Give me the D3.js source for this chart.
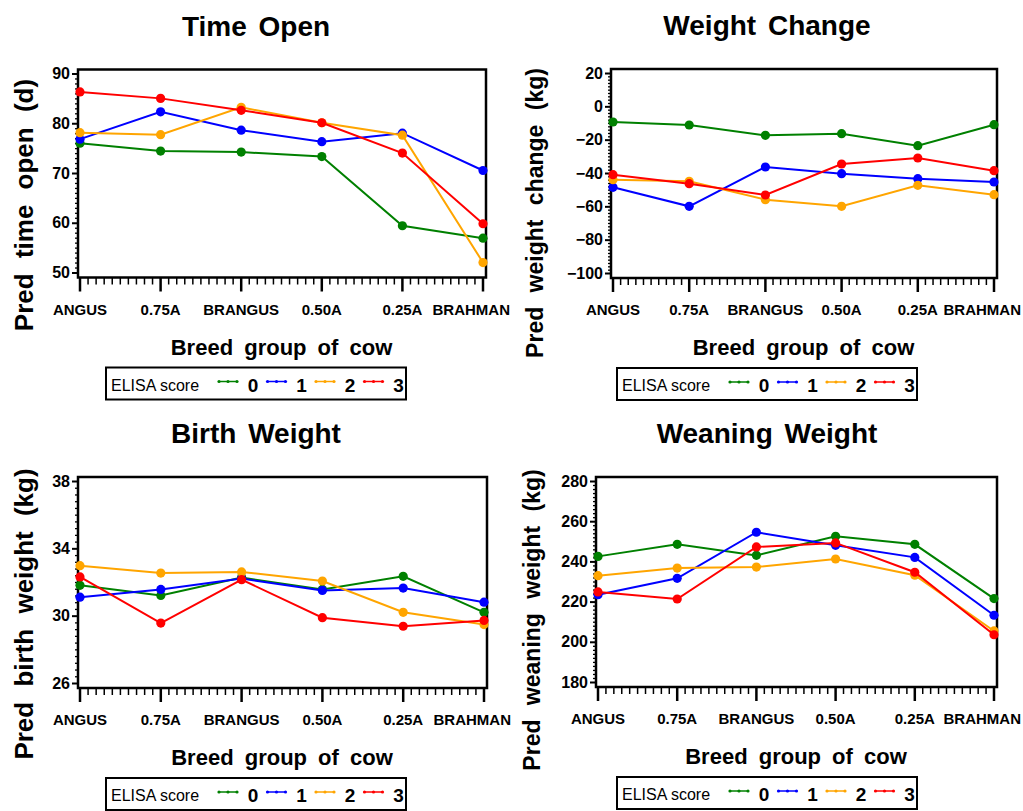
<!DOCTYPE html>
<html>
<head>
<meta charset="utf-8">
<script src="https://d3js.org/d3.v7.min.js"></script>
<style>
    body { margin: 0; background: #fff; }
    svg { display: block; font-family: "Liberation Sans", Arial, Helvetica, sans-serif; }
</style>
</head>
<body>
<div id="chart"></div>
<script>
// Breed groups on the x axis and ELISA score groups
const breeds = ['ANGUS', '0.75A', 'BRANGUS', '0.50A', '0.25A', 'BRAHMAN'];
const elisaScores = ['0', '1', '2', '3'];
const scoreColors = ['#008000', '#0000ff', '#ffa500', '#ff0000'];

// Time open (d)
const timeOpen0 = [76.0, 74.4, 74.2, 73.3, 59.4, 56.9];
const timeOpen1 = [76.8, 82.3, 78.6, 76.3, 78.0, 70.5];
const timeOpen2 = [78.1, 77.7, 83.2, 80.1, 77.6, 52.0];
const timeOpen3 = [86.3, 85.0, 82.6, 80.1, 74.0, 59.8];
const timeOpenTicks = [50, 60, 70, 80, 90];

// Weight change (kg)
const weightChange0 = [-9.4, -11.2, -17.4, -16.4, -23.6, -11.0];
const weightChange1 = [-48.6, -60.0, -36.4, -40.4, -43.4, -45.4];
const weightChange2 = [-44.0, -45.0, -56.0, -60.0, -47.4, -53.0];
const weightChange3 = [-41.0, -46.4, -53.2, -34.6, -31.0, -38.6];
const weightChangeTicks = [-100, -80, -60, -40, -20, 0, 20];

// Birth weight (kg)
const birthWeight0 = [31.8, 31.2, 32.26, 31.56, 32.34, 30.2];
const birthWeight1 = [31.1, 31.56, 32.2, 31.5, 31.64, 30.8];
const birthWeight2 = [32.97, 32.53, 32.6, 32.06, 30.2, 29.47];
const birthWeight3 = [32.3, 29.56, 32.14, 29.88, 29.37, 29.72];
const birthWeightTicks = [26, 30, 34, 38];

// Weaning weight (kg)
const weaningWeight0 = [242.5, 248.5, 243.0, 252.5, 248.5, 221.5];
const weaningWeight1 = [223.4, 231.6, 254.5, 248.0, 242.0, 213.2];
const weaningWeight2 = [232.9, 236.7, 237.2, 241.2, 233.1, 205.4];
const weaningWeight3 = [224.8, 221.3, 247.2, 249.2, 234.6, 203.5];
const weaningWeightTicks = [180, 200, 220, 240, 260, 280];

const width = 1023;
const height = 811;

const svg = d3.select('#chart')
    .append('svg')
    .attr('width', width)
    .attr('height', height);

svg.append('rect')
    .attr('width', width)
    .attr('height', height)
    .attr('fill', '#fff');

// one entry per panel: data + where it sits on the page
const panels = [
    { title: 'Time Open', yLabel: 'Pred time open (d)', ticks: timeOpenTicks,
      series: [timeOpen0, timeOpen1, timeOpen2, timeOpen3],
      center: 256, left: 80, right: 483, top: 73.5, bottom: 272.5,
      labelX: 33, labelY: 205, labelSize: 26 },
    { title: 'Weight Change', yLabel: 'Pred weight change (kg)', ticks: weightChangeTicks,
      series: [weightChange0, weightChange1, weightChange2, weightChange3],
      center: 767, left: 613, right: 994, top: 73, bottom: 273,
      labelX: 543, labelY: 213, labelSize: 23 },
    { title: 'Birth Weight', yLabel: 'Pred birth weight (kg)', ticks: birthWeightTicks,
      series: [birthWeight0, birthWeight1, birthWeight2, birthWeight3],
      center: 256, left: 80, right: 484, top: 481, bottom: 683,
      labelX: 33, labelY: 614, labelSize: 26 },
    { title: 'Weaning Weight', yLabel: 'Pred weaning weight (kg)', ticks: weaningWeightTicks,
      series: [weaningWeight0, weaningWeight1, weaningWeight2, weaningWeight3],
      center: 767, left: 598, right: 994, top: 481, bottom: 682,
      labelX: 540, labelY: 620, labelSize: 23 }
];

panels.forEach(drawPanel);

function drawPanel(p) {
    const g = svg.append('g');

    const x = d3.scalePoint()
        .domain(breeds)
        .range([p.left, p.right]);

    const y = d3.scaleLinear()
        .domain(d3.extent(p.ticks))
        .range([p.bottom, p.top]);

    const frameLeft = p.left - 2;
    const frameRight = p.right + 3;
    const frameTop = p.top - 4;
    const frameBottom = p.bottom + 5;

    // title
    g.append('text')
        .attr('x', p.center)
        .attr('y', frameTop - 34)
        .attr('text-anchor', 'middle')
        .attr('font-size', 28)
        .attr('font-weight', 'bold')
        .style('word-spacing', '4px')
        .text(p.title);

    // y axis major + minor ticks
    const step = p.ticks[1] - p.ticks[0];
    const minorY = [];
    for (let i = 0; i < p.ticks.length - 1; i++) {
        for (let k = 1; k < 10; k++) minorY.push(p.ticks[i] + step * k / 10);
    }

    g.append('g')
        .attr('transform', `translate(${frameLeft},0)`)
        .call(d3.axisLeft(y).tickValues(minorY).tickSize(3).tickFormat(''))
        .call(a => a.select('.domain').remove())
        .call(a => a.selectAll('line').attr('stroke-width', 1.3));

    g.append('g')
        .attr('transform', `translate(${frameLeft},0)`)
        .call(d3.axisLeft(y).tickValues(p.ticks).tickSize(6).tickPadding(2).tickFormat(d3.format('d')))
        .call(a => a.select('.domain').remove())
        .call(a => a.selectAll('line').attr('stroke-width', 2))
        .call(a => a.selectAll('text')
            .attr('font-size', 16)
            .attr('font-weight', 'bold')
            .attr('font-family', null)
            .attr('fill', '#000'));

    // x axis ticks below the frame
    const gap = x.step();
    const minorX = [];
    breeds.slice(0, -1).forEach(b => {
        for (let k = 1; k < 10; k++) minorX.push(x(b) + gap * k / 10);
    });

    g.selectAll('.minor-x')
        .data(minorX)
        .enter()
        .append('line')
        .attr('x1', d => d)
        .attr('x2', d => d)
        .attr('y1', frameBottom)
        .attr('y2', frameBottom + 7)
        .attr('stroke', '#000')
        .attr('stroke-width', 1.5);

    g.selectAll('.major-x')
        .data(breeds)
        .enter()
        .append('line')
        .attr('x1', d => x(d))
        .attr('x2', d => x(d))
        .attr('y1', frameBottom)
        .attr('y2', frameBottom + 14)
        .attr('stroke', '#000')
        .attr('stroke-width', 2.5);

    const xLabels = g.selectAll('.xlab')
        .data(breeds)
        .enter()
        .append('text')
        .attr('x', d => x(d))
        .attr('y', frameBottom + 37)
        .attr('text-anchor', 'middle')
        .attr('font-size', 15)
        .attr('font-weight', 'bold')
        .text(d => d);

    // keep the last label from running off the panel
    xLabels.each(function(d) {
        const w = this.getComputedTextLength();
        const limit = p.right + 27;
        if (x(d) + w / 2 > limit) d3.select(this).attr('x', limit - w / 2);
    });

    // frame
    g.append('rect')
        .attr('x', frameLeft)
        .attr('y', frameTop)
        .attr('width', frameRight - frameLeft)
        .attr('height', frameBottom - frameTop)
        .attr('fill', 'none')
        .attr('stroke', '#000')
        .attr('stroke-width', 2.5);

    // axis titles
    g.append('text')
        .attr('x', (p.left + p.right) / 2)
        .attr('y', frameBottom + 77)
        .attr('text-anchor', 'middle')
        .attr('font-size', 22)
        .attr('font-weight', 'bold')
        .style('word-spacing', '5px')
        .text('Breed group of cow');

    g.append('text')
        .attr('transform', `translate(${p.labelX},${p.labelY}) rotate(-90)`)
        .attr('text-anchor', 'middle')
        .attr('font-size', p.labelSize)
        .attr('font-weight', 'bold')
        .style('word-spacing', '8px')
        .text(p.yLabel);

    // lines + markers, score 0 first so 3 ends on top
    const line = d3.line()
        .x((d, i) => x(breeds[i]))
        .y(d => y(d));

    p.series.forEach((values, s) => {
        g.append('path')
            .datum(values)
            .attr('d', line)
            .attr('fill', 'none')
            .attr('stroke', scoreColors[s])
            .attr('stroke-width', 2);

        g.selectAll(`.pt${s}`)
            .data(values)
            .enter()
            .append('circle')
            .attr('cx', (d, i) => x(breeds[i]))
            .attr('cy', d => y(d))
            .attr('r', 4.6)
            .attr('fill', scoreColors[s]);
    });

    drawLegend(g, p.center - 150, frameBottom + 90);
}

function drawLegend(g, lx, ly) {
    const lg = g.append('g')
        .attr('transform', `translate(${lx},${ly})`);

    lg.append('rect')
        .attr('width', 300)
        .attr('height', 32)
        .attr('fill', '#fff')
        .attr('stroke', '#000')
        .attr('stroke-width', 2);

    lg.append('text')
        .attr('x', 5)
        .attr('y', 23)
        .attr('font-size', 16)
        .text('ELISA score');

    const items = lg.selectAll('.item')
        .data(elisaScores)
        .enter()
        .append('g')
        .attr('transform', (d, i) => `translate(${113 + i * 48.5},0)`);

    items.append('line')
        .attr('x1', 0)
        .attr('x2', 18)
        .attr('y1', 14)
        .attr('y2', 14)
        .attr('stroke', (d, i) => scoreColors[i])
        .attr('stroke-width', 1.5);

    items.selectAll('circle')
        .data((d, i) => [0, 9, 18].map(cx => ({ cx, color: scoreColors[i] })))
        .enter()
        .append('circle')
        .attr('cx', d => d.cx)
        .attr('cy', 14)
        .attr('r', 1.6)
        .attr('fill', d => d.color);

    items.append('text')
        .attr('x', 34)
        .attr('y', 24)
        .attr('text-anchor', 'middle')
        .attr('font-size', 19)
        .attr('font-weight', 'bold')
        .text(d => d);
}
</script>
</body>
</html>
